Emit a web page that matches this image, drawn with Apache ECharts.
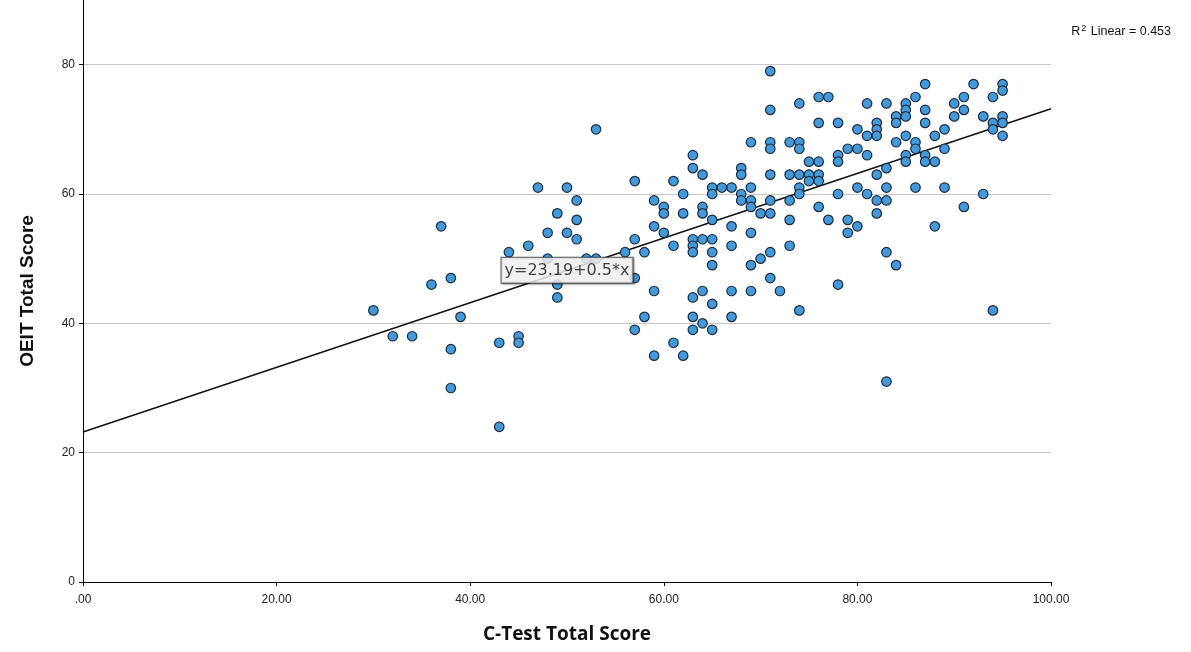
<!DOCTYPE html>
<html>
<head>
<meta charset="utf-8">
<script src="https://cdn.jsdelivr.net/npm/echarts@6/dist/echarts.min.js"></script>
<style>
html,body{margin:0;padding:0;background:#fff;}
#chart{width:1191px;height:652px;}
</style>
</head>
<body>
<div id="chart"></div>
<script>
// C-Test total score (x) for each participant
const cTestScores = [
  30, 32, 34, 36, 37, 38, 38, 38, 39,
  43, 43, 44, 45, 45, 46, 47, 48, 48, 49, 49, 49,
  50, 50, 51, 51, 51, 52, 53, 53, 56, 57, 57, 57, 57, 58, 58,
  59, 59, 59, 59, 60, 60, 60, 61, 61, 61, 62, 62, 62,
  63, 63, 63, 63, 63, 63, 63, 63,
  64, 64, 64, 64, 64, 64,
  65, 65, 65, 65, 65, 65, 65, 65,
  66, 67, 67, 67, 67, 67, 68, 68, 68, 68,
  69, 69, 69, 69, 69, 69, 69, 70, 70,
  71, 71, 71, 71, 71, 71, 71, 71, 71, 72,
  73, 73, 73, 73, 73, 74, 74, 74, 74, 74, 74, 74,
  75, 75, 75, 76, 76, 76, 76, 76, 76, 77, 77,
  78, 78, 78, 78, 78, 79, 79, 79, 80, 80, 80, 80,
  81, 81, 81, 81, 82, 82, 82, 82, 82, 82,
  83, 83, 83, 83, 83, 83, 84, 84, 84, 84,
  85, 85, 85, 85, 85, 85, 86, 86, 86, 86,
  87, 87, 87, 87, 87, 88, 88, 88, 89, 89, 89,
  90, 90, 91, 91, 91, 92, 93, 93, 94, 94, 94, 94,
  95, 95, 95, 95, 95
];
// OEIT total score (y), same order
const oeitScores = [
  42, 38, 38, 46, 55, 47, 36, 30, 41,
  37, 24, 51, 38, 37, 52, 61, 54, 50, 57, 46, 44,
  61, 54, 59, 56, 53, 50, 70, 50, 51, 62, 53, 47, 39, 51, 41,
  59, 55, 45, 35, 58, 57, 54, 62, 52, 37, 60, 57, 35,
  66, 64, 53, 52, 51, 44, 41, 39,
  63, 58, 57, 53, 45, 40,
  61, 60, 56, 53, 51, 49, 43, 39,
  61, 61, 55, 52, 45, 41, 64, 63, 60, 59,
  68, 61, 59, 58, 54, 49, 45, 57, 50,
  79, 73, 68, 67, 63, 59, 57, 51, 47, 45,
  68, 63, 59, 56, 52, 74, 68, 67, 63, 61, 60, 42,
  65, 63, 62, 75, 71, 65, 63, 62, 58, 75, 56,
  71, 66, 65, 60, 46, 67, 56, 54, 70, 67, 61, 55,
  74, 69, 66, 60, 71, 70, 69, 63, 59, 57,
  74, 64, 61, 59, 51, 31, 72, 71, 68, 49,
  74, 73, 72, 69, 66, 65, 75, 68, 67, 61,
  77, 73, 71, 66, 65, 69, 65, 55, 70, 67, 61,
  74, 72, 75, 73, 58, 77, 72, 60, 75, 71, 70, 42,
  77, 76, 72, 71, 69
];
// Fit line parameters (as reported in the chart)
const fitIntercept = 23.19;
const fitSlope = 0.5;
const fitRange = [0, 100];
const fitLabelAt = 50;
const rSquared = '0.453';
const xTickLabels = {0: '.00', 20: '20.00', 40: '40.00', 60: '60.00', 80: '80.00', 100: '100.00'};
const yTickValues = [0, 20, 40, 60, 80];

const points = cTestScores.map((x, i) => [x, oeitScores[i]]);
const fitLine = fitRange.map(x => [x, fitIntercept + fitSlope * x]);

const chart = echarts.init(document.getElementById('chart'));
chart.setOption({
  animation: false,
  backgroundColor: '#ffffff',
  title: {
    text: '{a|R}{s|2}{a| Linear = ' + rSquared + '}',
    right: 15,
    top: 19,
    textStyle: {
      fontWeight: 'normal',
      rich: {
        a: {fontFamily: 'Liberation Sans', fontWeight: 'normal', fontSize: 12.5, color: '#111'},
        s: {fontFamily: 'Liberation Sans', fontWeight: 'normal', fontSize: 9, color: '#111', verticalAlign: 'top', padding: [0, 1, 7, 1]}
      }
    }
  },
  grid: {left: 83, right: 140, top: 0, bottom: 70, containLabel: false},
  xAxis: {
    type: 'value',
    min: 0, max: 100, interval: 20,
    name: 'C-Test Total Score',
    nameLocation: 'middle',
    nameGap: 43,
    nameTextStyle: {fontFamily: 'Open Sans', fontWeight: 'bold', fontSize: 19, color: '#111'},
    axisLine: {show: true, lineStyle: {color: '#000', width: 1}},
    axisTick: {show: true, length: 4, lineStyle: {color: '#000'}},
    axisLabel: {
      fontFamily: 'Liberation Sans', fontSize: 12, color: '#222', margin: 12,
      formatter: v => (xTickLabels[v] !== undefined ? xTickLabels[v] : '')
    },
    splitLine: {show: false}
  },
  yAxis: {
    type: 'value',
    min: 0, max: 90, interval: 20,
    name: 'OEIT Total Score',
    nameLocation: 'middle',
    nameRotate: 90,
    nameGap: 46,
    nameTextStyle: {fontFamily: 'Liberation Sans', fontWeight: 'bold', fontSize: 19, color: '#111'},
    axisLine: {show: true, lineStyle: {color: '#000', width: 1}},
    axisTick: {show: true, length: 4, lineStyle: {color: '#000'}},
    axisLabel: {
      fontFamily: 'Liberation Sans', fontSize: 12, color: '#222', margin: 8,
      showMaxLabel: false,
      formatter: v => (yTickValues.indexOf(v) >= 0 ? String(v) : '')
    },
    splitLine: {
      show: true,
      showMaxLine: false,
      lineStyle: {color: ['#c8c8c8', '#c8c8c8', '#c8c8c8', '#c8c8c8', '#c8c8c8', '#ffffff'], width: 1}
    }
  },
  series: [
    {
      type: 'line',
      data: fitLine,
      symbol: 'none',
      lineStyle: {color: '#111', width: 1.5},
      z: 3,
      silent: true
    },
    {
      type: 'scatter',
      data: points,
      symbol: 'circle',
      symbolSize: 9.5,
      itemStyle: {color: '#4499d8', borderColor: '#1b2c42', borderWidth: 1.2, opacity: 1},
      z: 4
    },
    {
      type: 'scatter',
      data: [[fitLabelAt, fitIntercept + fitSlope * fitLabelAt]],
      symbolSize: 0,
      z: 10,
      label: {
        show: true,
        position: 'inside',
        formatter: 'y=' + fitIntercept + '+' + fitSlope + '*x',
        fontFamily: 'DejaVu Sans',
        fontSize: 16,
        color: '#111',
        backgroundColor: '#ffffff',
        borderColor: '#333',
        borderWidth: 1,
        padding: [5, 3, 4, 3],
        shadowColor: 'rgba(0,0,0,0.35)',
        shadowBlur: 2,
        shadowOffsetX: 1,
        shadowOffsetY: 1
      },
      silent: true
    }
  ]
});
</script>
</body>
</html>
